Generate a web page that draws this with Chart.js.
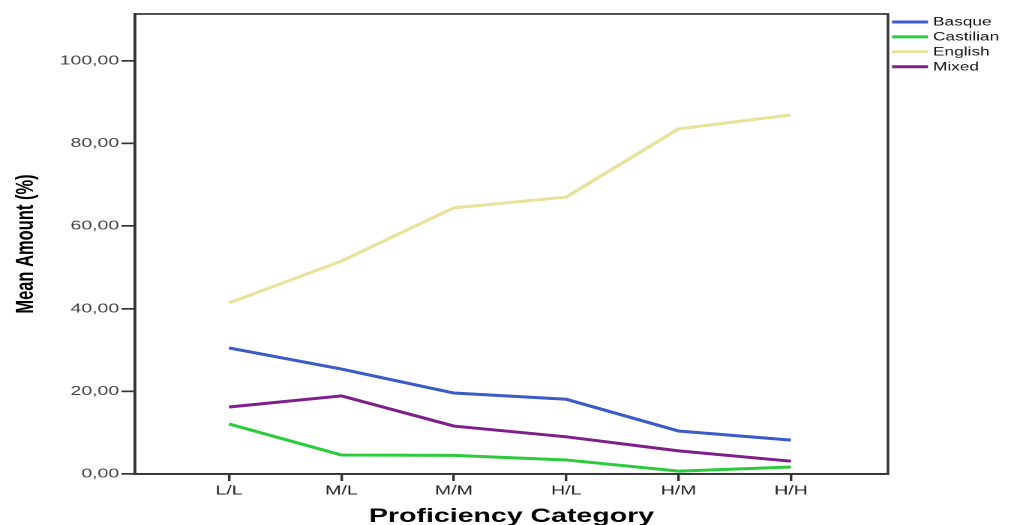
<!DOCTYPE html>
<html>
<head>
<meta charset="utf-8">
<title>Mean Amount by Proficiency Category</title>
<script src="https://cdn.jsdelivr.net/npm/chart.js@4/dist/chart.umd.min.js"></script>
<style>
  html, body { margin: 0; padding: 0; background: #fff; overflow: hidden; }
  /* The chart is laid out on a narrower canvas and widened horizontally. */
  #wrap { width: 674px; height: 525px; transform: scaleX(1.5); transform-origin: 0 0; }
  canvas { display: block; }
</style>
</head>
<body>
<div id="wrap"><canvas id="chart" width="674" height="525"></canvas></div>
<script>
// Proficiency categories along the x axis
const categories = ['L/L', 'M/L', 'M/M', 'H/L', 'H/M', 'H/H'];

// Mean amount (%) of each language per category
const basque    = [30.5, 25.4, 19.6, 18.1, 10.4, 8.2];
const castilian = [12.1, 4.6, 4.5, 3.4, 0.7, 1.7];
const english   = [41.4, 51.5, 64.4, 67.0, 83.5, 86.9];
const mixed     = [16.2, 18.9, 11.6, 9.0, 5.6, 3.1];

// Y axis tick values
const yTicks = [0, 20, 40, 60, 80, 100];

const seriesNames  = ['Basque', 'Castilian', 'English', 'Mixed'];
const seriesValues = [basque, castilian, english, mixed];
const seriesColors = ['#3a5bc8', '#2bcb3b', '#e9e29c', '#7f1f8a'];

const datasets = seriesNames.map((name, k) => ({
  label: name,
  data: seriesValues[k].map((v, i) => ({ x: i, y: v })),
  borderColor: seriesColors[k],
  backgroundColor: seriesColors[k],
  borderWidth: 3,
  pointRadius: 0,
  tension: 0,
  fill: false
}));

const AXIS = '#333333';

// Frame around the plotting area
const frame = {
  id: 'frame',
  beforeDatasetsDraw(chart) {
    const { ctx, chartArea: a } = chart;
    ctx.save();
    ctx.strokeStyle = AXIS;
    ctx.lineWidth = 1.7;
    ctx.strokeRect(a.left, a.top, a.right - a.left, a.bottom - a.top);
    ctx.restore();
  }
};

// Legend with line samples at the top right
const sideLegend = {
  id: 'sideLegend',
  afterDraw(chart) {
    const { ctx } = chart;
    const x0 = 594.7, x1 = 618.7, tx = 622, y0 = 22, step = 14.9;
    ctx.save();
    ctx.font = '11.5px "Liberation Sans", Arial, sans-serif';
    ctx.textBaseline = 'middle';
    ctx.textAlign = 'left';
    chart.data.datasets.forEach((ds, i) => {
      const y = y0 + i * step;
      ctx.strokeStyle = ds.borderColor;
      ctx.lineWidth = 3;
      ctx.beginPath();
      ctx.moveTo(x0, y);
      ctx.lineTo(x1, y);
      ctx.stroke();
      ctx.fillStyle = '#111';
      ctx.fillText(ds.label, tx, y + 0.5);
    });
    ctx.restore();
  }
};

new Chart(document.getElementById('chart'), {
  type: 'line',
  data: { datasets },
  plugins: [frame, sideLegend],
  options: {
    responsive: false,
    animation: false,
    devicePixelRatio: 2,
    layout: { padding: { top: 14, right: 82, left: 0, bottom: 0 } },
    plugins: {
      legend: { display: false },
      tooltip: { enabled: false }
    },
    scales: {
      x: {
        type: 'linear',
        min: -0.837,
        max: 5.864,
        afterBuildTicks(scale) {
          scale.ticks = categories.map((_, i) => ({ value: i }));
        },
        afterFit(scale) { scale.height = 51; },
        grid: { drawOnChartArea: false, drawTicks: true, tickLength: 7, color: AXIS, lineWidth: 1.7 },
        border: { display: true, color: AXIS, width: 1.7 },
        ticks: {
          autoSkip: false,
          maxRotation: 0,
          padding: 2,
          color: '#222',
          font: { family: '"Liberation Sans", Arial, sans-serif', size: 13 },
          callback: (v) => categories[v]
        },
        title: {
          display: true,
          text: 'Proficiency Category',
          color: '#000',
          font: { family: '"Liberation Sans", Arial, sans-serif', size: 19, weight: 'bold' },
          padding: { top: 0, bottom: -3 }
        }
      },
      y: {
        min: 0,
        max: 111.3,
        afterBuildTicks(scale) {
          scale.ticks = yTicks.map(v => ({ value: v }));
        },
        afterFit(scale) { scale.width = 90; },
        grid: { drawOnChartArea: false, drawTicks: true, tickLength: 9, color: AXIS, lineWidth: 1.7 },
        border: { display: true, color: AXIS, width: 1.7 },
        ticks: {
          padding: 1.5,
          color: '#444',
          font: { family: '"Liberation Sans", Arial, sans-serif', size: 13 },
          callback: (v) => v.toFixed(2).replace('.', ',')
        },
        title: {
          display: true,
          text: 'Mean Amount (%)',
          color: '#000',
          font: { family: '"Liberation Sans", Arial, sans-serif', size: 16.5, weight: 'bold' },
          padding: { top: 7.4, bottom: 0 }
        }
      }
    }
  }
});
</script>
</body>
</html>
